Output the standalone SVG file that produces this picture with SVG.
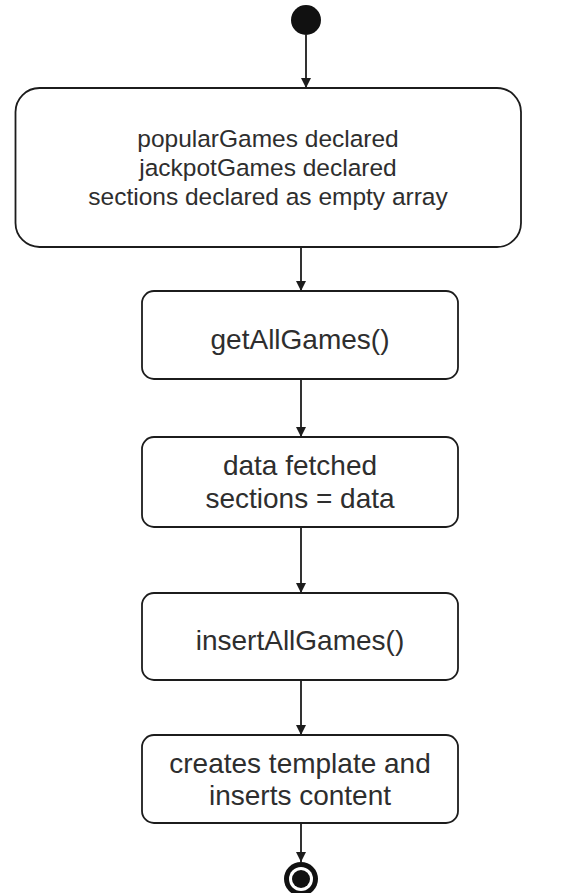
<svg xmlns="http://www.w3.org/2000/svg" width="586" height="893" viewBox="0 0 586 893">
  <defs>
    <style>
      .state { fill: #ffffff; stroke: #1c1c1c; stroke-width: 1.8; }
      .label { font-family: "Liberation Sans", Arial, sans-serif; fill: #2e2e2e; text-anchor: middle; }
      .big { font-size: 24.5px; }
      .std { font-size: 28px; }
      .flow { stroke: #1c1c1c; stroke-width: 1.8; fill: none; marker-end: url(#arrow); }
    </style>
    <marker id="arrow" viewBox="0 0 10 12" refX="10" refY="6" markerWidth="10" markerHeight="12" markerUnits="userSpaceOnUse" orient="auto">
      <path d="M0,1 L10,6 L0,11 Z" fill="#1c1c1c"/>
    </marker>
  </defs>
  <rect width="586" height="893" fill="#ffffff"/>

  <!-- connectors -->
  <g id="connectors">
    <line class="flow" x1="306" y1="35" x2="306" y2="88"/>
    <line class="flow" x1="301" y1="247" x2="301" y2="291"/>
    <line class="flow" x1="301" y1="379" x2="301" y2="437"/>
    <line class="flow" x1="301" y1="527" x2="301" y2="593"/>
    <line class="flow" x1="301" y1="680" x2="301" y2="735"/>
    <line class="flow" x1="301" y1="823" x2="301" y2="862"/>
  </g>

  <!-- initial state -->
  <g id="start">
    <circle cx="306" cy="20" r="15" fill="#111111"/>
  </g>

  <g id="declarations">
    <rect class="state" x="15.5" y="88" width="505.5" height="159" rx="24" ry="24"/>
    <text class="label big" x="268" y="147">popularGames declared</text>
    <text class="label big" x="268" y="176">jackpotGames declared</text>
    <text class="label big" x="268" y="205">sections declared as empty array</text>
  </g>

  <g id="getAllGames">
    <rect class="state" x="142" y="291" width="316" height="88" rx="12" ry="12"/>
    <text class="label std" x="300" y="349">getAllGames()</text>
  </g>

  <g id="dataFetched">
    <rect class="state" x="142" y="437" width="316" height="90" rx="12" ry="12"/>
    <text class="label std" x="300" y="475">data fetched</text>
    <text class="label std" x="300" y="508">sections = data</text>
  </g>

  <g id="insertAllGames">
    <rect class="state" x="142" y="593" width="316" height="87" rx="12" ry="12"/>
    <text class="label std" x="300" y="650">insertAllGames()</text>
  </g>

  <g id="createsTemplate">
    <rect class="state" x="142" y="735" width="316" height="88" rx="12" ry="12"/>
    <text class="label std" x="300" y="773">creates template and</text>
    <text class="label std" x="300" y="805">inserts content</text>
  </g>

  <!-- final state -->
  <g id="end">
    <circle cx="301" cy="879" r="17" fill="#111111"/>
    <circle cx="301" cy="879" r="12" fill="#ffffff"/>
    <circle cx="301" cy="879" r="9" fill="#111111"/>
  </g>
</svg>
